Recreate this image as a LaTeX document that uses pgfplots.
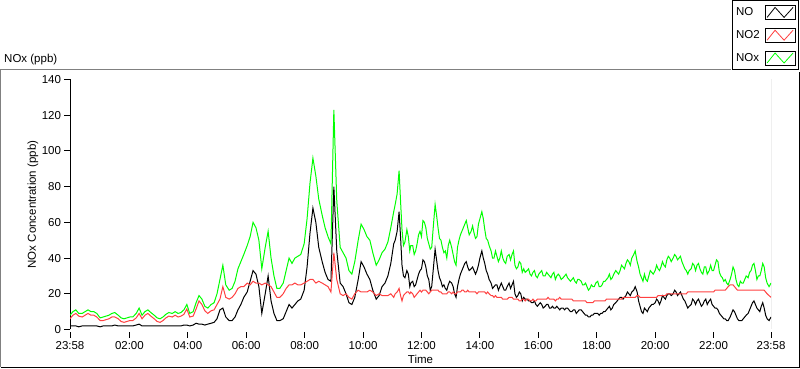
\documentclass[border=0pt]{standalone}
\usepackage{fontspec}
\setmainfont{Liberation Sans}
\usepackage{pgfplots}
\pgfplotsset{compat=1.18}
\usepackage{pgfplotstable}
\definecolor{noxgreen}{RGB}{0,255,0}
\definecolor{notwored}{RGB}{255,64,64}
\definecolor{framegray}{RGB}{128,128,128}

\pgfplotstableread{
t NO NOtwo NOx
0 2 6 8
6 2 8 10
12 2 9 11
18 1.5 7.5 9
25 2 7 9
31 2 8 10
37 2 9 11
43 2 8 10
49 2 8 10
55 2 7 9
62 1.5 5 6.5
68 2 5 7
74 2 5.5 7.5
80 2 6 8
86 2 7 9
92 2.5 7 9.5
99 2 6 8
105 2 4.5 6.5
111 2 4 6
117 2 4.5 6.5
123 2 5 7
129 2 5 7
136 2.5 6.5 9
142 3 9 12
148 2 6 8
154 2 8 10
160 2 9 11
166 2 7.5 9.5
173 2 6 8
179 2 4.5 6.5
185 2 4 6
191 2 5 7
197 2 6.5 8.5
203 2 7.5 9.5
210 2 7 9
216 2 8 10
222 2 7 9
228 2 7.5 9.5
234 2.5 8.5 11
240 2.5 11.5 14
246 2 7 9
253 2.5 7.5 10
259 3.5 11.5 15
265 3 16 19
271 3 14 17
277 2.5 10.5 13
283 3 9 12
290 3.5 10.5 14
296 4 11 15
302 6 14 20
308 11 17 28
314 12 24 36
320 7 18 25
327 5 17 22
333 5 18 23
339 7 20 27
345 11 23 34
351 14 24 38
357 18 24 42
364 21 26 47
370 27 25 52
376 33 27 60
382 31 26 57
388 24 26 50
394 9 25 34
401 20 26 46
407 30 25 55
413 16 24 40
419 9 21 30
425 5 18 23
431 5 18 23
438 6 20 26
444 10 23 33
450 14 25 40
456 12 25 37
462 14 26 40
468 16 25 41
474 17 25 42
481 22 26 48
487 35 27 62
493 54 28 82
499 68 28 96
505 60 26 86
511 46 27 73
518 38 26 64
524 32 25 57
530 28 24 52
536 27 21 48
542 80 43 123
548 44 28 72
555 26 20 46
561 24 19 43
567 20 20 40
573 15 18 33
579 14 17 31
585 18 20 38
592 28 22 50
598 38 21 59
604 35 21 56
610 31 21 52
616 28 22 50
622 22 21 43
629 17 19 36
635 19 20 39
641 24 19 43
647 26 19 45
653 30 19 49
659 37 20 57
665 48 18 66
668 50 20 70
672 55 21 76
676 66 23 89
679 52 19 72
682 36 16 56
685 30 19 47
688 29 20 49
692 33 21 56
695 31 21 52
698 24 20 44
700 26 21 47
704 27 20 47
707 24 18 42
710 25 19 44
713 28 20 48
716 31 21 53
719 33 22 55
722 34 21 52
725 39 22 61
728 38 22 60
731 35 22 57
734 30 21 51
737 28 20 48
740 22 21 45
743 24 22 46
747 36 22 60
750 45 22 70
753 39 22 64
756 33 22 57
759 29 21 51
762 27 21 50
765 24 20 46
768 25 20 43
771 23 20 44
774 22 20 40
777 25 21 47
780 27 21 50
784 26 20 46
787 24 21 42
790 20 20 38
793 18 20 36
796 24 21 46
799 28 21 50
802 31 21 53
805 33 22 55
808 35 22 57
811 37 21 59
814 38 21 61
817 35 22 57
820 33 21 53
824 34 21 55
827 35 21 58
830 33 21 54
833 31 21 51
836 33 20 52
839 36 21 59
842 40 21 62
846 44 21 66
849 40 21 62
852 37 21 56
855 33 20 51
858 31 21 50
861 28 20 47
865 26 19 44
868 23 19 40
871 24 18 40
874 25 19 44
877 25 18 41
880 22 18 38
883 24 18 40
886 26 18 44
889 24 17 40
892 22 17 38
895 22 17 37
898 24 17 41
902 26 18 42
905 23 18 39
908 25 18 42
911 27 17 44
914 20 17 36
917 18 17 34
920 19 17 35
923 21 16 38
926 20 16 37
929 16 17 32
932 18 17 34
935 17 16 32
939 17 17 33
942 16 17 34
945 16 16 31
948 15 16 30
951 15 17 32
954 16 16 33
957 14 16 30
960 13 17 29
963 14 17 31
966 15 17 32
969 14 17 33
972 12 17 30
976 13 17 30
979 14 17 32
982 14 18 31
985 12 17 30
988 12 17 29
991 13 17 31
994 12 17 32
997 12 16 28
1000 13 17 30
1003 12 17 31
1006 11 18 30
1009 12 17 28
1013 12 17 29
1016 11 17 30
1019 12 17 31
1022 12 17 29
1025 11 17 28
1028 10 17 27
1031 10 17 28
1034 11 16 29
1037 11 16 27
1040 9 16 26
1043 10 16 28
1046 11 16 28
1050 11 16 27
1053 10 16 25
1056 9 16 25
1059 8 16 26
1062 8 15 24
1065 7 15 22
1068 7 15 23
1071 8 15 25
1074 8 15 24
1077 9 16 24
1080 9 16 26
1084 9 16 27
1087 8 16 24
1090 9 16 24
1093 9 16 25
1096 10 16 27
1099 10 16 27
1102 11 17 28
1105 12 17 29
1108 13 17 31
1111 11 17 28
1114 12 17 29
1117 14 17 31
1121 15 17 33
1124 16 17 32
1127 17 17 31
1130 18 17 33
1133 18 17 36
1136 17 18 35
1139 18 18 34
1142 19 18 37
1145 21 18 39
1148 20 18 38
1151 19 18 36
1154 21 18 40
1158 22 18 42
1161 24 18 44
1165 21 19 38
1168 16 19 35
1171 13 18 31
1174 10 18 29
1177 9 18 27
1180 12 18 31
1183 11 18 28
1186 10 18 27
1189 12 18 30
1192 13 18 33
1195 14 18 32
1198 14 18 31
1202 15 18 33
1205 17 18 36
1208 16 19 34
1211 14 19 33
1214 16 19 35
1217 19 19 38
1220 18 19 36
1223 17 19 35
1226 19 20 39
1229 20 20 41
1232 20 20 40
1235 19 20 38
1239 20 20 40
1242 22 20 42
1245 21 20 41
1248 19 20 39
1251 20 20 40
1254 21 20 41
1257 19 20 38
1260 17 20 36
1263 16 20 34
1266 14 20 33
1269 12 21 31
1272 13 21 33
1276 14 21 34
1279 17 21 37
1282 16 21 36
1285 14 21 33
1288 16 21 36
1291 17 21 37
1294 15 21 34
1297 13 21 32
1300 14 21 31
1303 16 21 35
1306 17 21 35
1309 14 21 31
1313 16 21 33
1316 17 21 36
1319 14 21 33
1322 13 21 33
1325 12 22 36
1328 12 22 39
1331 11 22 38
1334 9 22 32
1337 8 22 30
1340 7 22 29
1343 6 22 27
1346 6 22 28
1349 5 23 26
1352 5 24 25
1356 7 25 28
1359 9 25 31
1362 11 25 35
1365 10 24 33
1368 8 23 28
1371 6 22 25
1374 5 22 24
1377 5 22 27
1380 5 22 26
1383 6 22 26
1386 7 22 28
1389 8 22 30
1393 9 22 29
1396 11 22 32
1399 13 22 33
1402 15 22 36
1405 16 22 37
1408 14 22 33
1411 12 22 28
1414 11 22 30
1417 10 22 30
1420 13 22 33
1423 15 22 37
1426 12 22 35
1429 8 21 29
1432 6 20 26
1436 5 19 24
1440 7 18 26
}\datatable

\begin{document}
\begin{tikzpicture}[font=\fontsize{11.5pt}{13.5pt}\selectfont]
\useasboundingbox (0pt,0pt) rectangle (800pt,369pt);
\draw[framegray, line width=1pt] (0.5pt,1.5pt) -- (0.5pt,299.5pt) -- (731pt,299.5pt);
\draw[black, line width=1pt] (0.5pt,1.5pt) -- (799.5pt,1.5pt) -- (799.5pt,297pt);
\node[anchor=base west, inner sep=0pt] at (4pt,306pt) {NOx (ppb)};
\begin{axis}[
  at={(70pt,39.5pt)}, anchor=south west,
  scale only axis, width=701pt, height=250pt,
  xmin=0, xmax=1440, ymin=0, ymax=140,
  axis x line*=bottom, axis y line*=left,
  x axis line style={draw=none, -},
  y axis line style={black, line width=1pt, -},
  tick align=outside,
  major tick length=5.5pt, minor tick length=3pt,
  tick style={black, line width=1pt},
  xtick style={yshift=-2.5pt},
  xticklabel style={yshift=-2.5pt},
  ytick={0,20,...,140},
  xtick={0,122,242,362,482,602,722,842,962,1082,1202,1322,1440},
  xticklabels={23:58,02:00,04:00,06:00,08:00,10:00,12:00,14:00,16:00,18:00,20:00,22:00,23:58},
  minor x tick num=8,
  /pgf/number format/assume math mode=true,
  xlabel={Time},
  xlabel style={at={(axis description cs:0.5,-0.118)}, anchor=center},
  ylabel={NOx Concentration (ppb)},
  ylabel style={at={(axis description cs:-0.0528,0.5)}, anchor=center},
  legend plot pos=right,
  legend cell align=left,
  legend style={at={(1.0399,1.316)}, anchor=north east, draw=black, fill=white,
    line width=1pt, inner xsep=3pt, inner ysep=4pt, row sep=8pt, column sep=4pt,
    nodes={inner sep=1pt}},
  legend image code/.code={
    \draw[black, line width=0.8pt, fill=white] (0pt,-7pt) rectangle (30pt,7pt);
    \draw[#1, line width=0.8pt] (2pt,-5pt) -- (10pt,5pt) -- (19pt,-5pt) -- (28pt,5pt);
  },
]
\addplot[black, line width=1pt, sharp plot] table[x=t, y=NO] {\datatable};
\addlegendentry{NO}
\addplot[notwored, line width=1pt, sharp plot] table[x=t, y=NOtwo] {\datatable};
\addlegendentry{NO2}
\addplot[noxgreen, line width=1pt, sharp plot] table[x=t, y=NOx] {\datatable};
\addlegendentry{NOx}
\draw[black, line width=1pt] ([yshift=1pt]rel axis cs:0,1) -- ([yshift=1pt]rel axis cs:1,1);
\draw[framegray, line width=1pt] ([yshift=1pt]rel axis cs:1,1) -- (rel axis cs:1,0);
\end{axis}
\end{tikzpicture}
\end{document}
